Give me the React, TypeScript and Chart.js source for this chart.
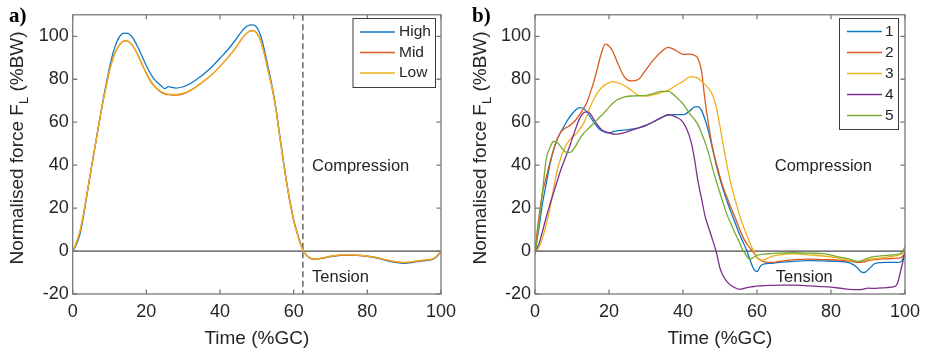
import React, { useEffect, useRef } from 'react';
import { Chart, registerables } from 'chart.js';

Chart.register(...registerables);

const FONT = '"Liberation Sans", Arial, Helvetica, sans-serif';
const TEXT = '#262626';

const xTicks = [0, 20, 40, 60, 80, 100];
const yTicks = [-20, 0, 20, 40, 60, 80, 100];

// ---------- Panel a ----------
const xsA = [0,1,2,3,4,5,6,7,8,9,10,11,12,13,14,15,16,17,18,19,20,21,22,23,24,25,26,27,28,30,32,34,36,38,40,42,44,46,47,48,49,50,51,52,53,54,55,56,57,58,59,60,61,62,63,64,65,66,68,70,73,76,79,82,85,88,90,92,94,96,97,98,99,100];
const highA = [0,3,8,17,27.5,38,48,58,68,77,85.5,92.5,97.5,100.5,101.5,101.4,100,97.3,93.8,90,86.3,83,80.3,78.5,77,75.6,76.6,76.2,75.9,76.5,78,80.3,83,86.2,89.8,93.5,97.8,102.5,104.3,105.2,105.3,104.2,100.5,94,86,78,68.5,56.5,44.5,33,23,14.5,8.3,2.8,-0.8,-2.8,-3.7,-3.8,-3.3,-2.6,-2,-1.9,-2.2,-3,-4.3,-5.4,-5.7,-5.4,-4.8,-4.4,-4.2,-3.7,-2.3,0];
const midA = [0,3.8,9.3,17.8,27.8,38,48,58,67.5,76,84,90,94,96.7,97.8,97.7,96.2,93.6,90.1,86.3,82.7,79.5,77,75.3,74,73.2,72.8,72.6,72.6,73.2,74.8,77,79.6,82.5,86,89.8,94,99,101,102.4,102.6,101.5,98,92,84.5,77,68,56,44,32.7,22.8,14.3,8,2.6,-0.9,-2.8,-3.6,-3.8,-3.2,-2.5,-1.9,-1.9,-2.2,-2.9,-4.1,-5.1,-5.4,-5.1,-4.6,-4.2,-4,-3.5,-2.1,0];
const lowA = [0,4,9.5,18,28,38,48,58,67.5,76,84,90,94,96.6,97.7,97.6,96.2,93.7,90.3,86.5,83,79.8,77.3,75.6,74.3,73.5,73.1,72.9,72.9,73.5,75,77.2,79.7,82.6,86,89.8,94,99,101,102.3,102.5,101.4,98,92,84.5,77,68,56,44,32.7,22.8,14.3,8,2.6,-0.9,-2.8,-3.6,-3.7,-3.1,-2.4,-1.8,-1.8,-2.1,-2.8,-4,-5,-5.3,-5,-4.5,-4.1,-3.9,-3.4,-2,0];
const namesA = ['High', 'Mid', 'Low'];

// ---------- Panel b ----------
const xsB = [0,1,2,3,4,5,6,7,8,9,10,11,12,13,14,15,16,17,18,19,20,21,22,24,26,28,30,32,34,36,38,40,42,43,44,45,46,47,48,49,50,51,52,53,54,55,56,57,58,59,60,61,62,64,66,70,74,78,82,85,87,88,89,90,92,95,97,98,99,100];
const s1 = [0,10,22,31,40,47,52,55.5,58.5,61.5,63.8,65.7,66.8,66.6,64.8,62.3,59.8,57.5,56,55.3,55,55.5,56,56.3,56.8,57.4,58.5,60.2,62,63.3,63.5,63.5,65.5,67,67.2,65.5,61,55,47.5,40,33.5,28,22.7,18,13.5,9,5,1.2,-3.5,-8,-9.6,-6.8,-6,-5.7,-5.3,-4.8,-4.5,-4.6,-4.8,-5.5,-7.5,-9.5,-10,-8.8,-5.7,-5.3,-5.3,-5.3,-5,-0.7];
const s2 = [0,15,27,34,41,47,52,55.5,57,58,59.3,61,63.4,66,69,74,79.5,86,92.5,96.3,95.5,93,89,81.5,79.2,80,84.5,89,92.6,94.8,93.5,91.6,91.7,91.2,89.8,84,69.5,58,48,41,34.5,29,24.5,20,16,11.5,7.3,4,1.6,-0.5,-3,-4.2,-5,-5.3,-4.8,-4,-3.8,-4,-4.2,-4.7,-5.3,-5.3,-5,-4.5,-4,-3.6,-3.4,-3.3,-3,-0.8];
const s3 = [0,1.5,6,12,19.6,29,37.5,43.5,48,51,53,54.3,56.5,59,63,67.5,71,74,76,77.5,78.3,78.9,78.5,77.2,75,72.5,72.2,72.8,73.7,74.8,77,79,81.2,81,80.5,79,77.5,75.5,72.5,67,58,48,39,31,24.5,18.5,13,8.5,4,0.3,-3,-4.5,-4,-2.5,-1.8,-1.3,-1.8,-2.3,-3.3,-4.3,-4.8,-4.7,-4.3,-4,-3.5,-2.8,-2.3,-2,-1.3,0];
const s4 = [0,3,9,15.5,21.5,27,32.5,38,42.5,47,52,57,61.5,64.2,64.8,63.8,61,58.5,56.5,55.6,55,54.5,54.4,55,56.2,57.3,58.5,60.2,62,63.5,62.5,60,52,44,33,24.5,16,10.5,5.2,-0.5,-8,-12,-14.5,-16,-17,-17.7,-17.6,-17.1,-16.8,-16.5,-16.3,-16.2,-16.1,-16,-15.9,-15.9,-16.2,-16.6,-17.2,-17.8,-18,-18,-17.6,-17.3,-17.4,-17,-16.6,-15,-8,-1];
const s5 = [-2,12,27,42.5,48,51,50.5,48.5,46.5,45.8,46.5,49,52,54.5,56.3,58,59.8,61.5,63.2,65,67,68.8,70.2,71.7,72.2,72.3,72.5,73.3,74.3,74.3,72,68.5,63.5,61.5,59,55,50.5,45,38.5,32.5,27,21.5,16.5,12.5,8.5,5,1,-1.8,-3.8,-3,-2,-1.6,-1.4,-1.2,-1,-0.8,-1,-1.2,-2.7,-3.8,-4.8,-4.8,-4,-3.3,-2.5,-2,-1.7,-1.5,-1,2];
const namesB = ['1', '2', '3', '4', '5'];

const colors = ['#0f78c2', '#d95a22', '#edb120', '#7e2f8e', '#77ac30'];

const panelPlugin = {
  id: 'panel',
  beforeDatasetsDraw(chart: any, _args: any, o: any) {
    const { ctx, chartArea: a } = chart;
    const xs = chart.scales.x, ys = chart.scales.y;
    ctx.save();
    const y0 = ys.getPixelForValue(0);
    ctx.strokeStyle = '#4a4a4a';
    ctx.lineWidth = 1.2;
    ctx.beginPath();
    ctx.moveTo(a.left, y0);
    ctx.lineTo(a.right, y0);
    ctx.stroke();
    if (o.vline !== undefined && o.vline !== null) {
      const xv = xs.getPixelForValue(o.vline);
      ctx.setLineDash([6, 3.5]);
      ctx.strokeStyle = '#666';
      ctx.lineWidth = 1.5;
      ctx.beginPath();
      ctx.moveTo(xv, a.top);
      ctx.lineTo(xv, a.bottom);
      ctx.stroke();
    }
    ctx.restore();
  },
  afterDatasetsDraw(chart: any, _args: any, o: any) {
    const { ctx, chartArea: a } = chart;
    const xs = chart.scales.x, ys = chart.scales.y;
    ctx.save();
    // frame
    ctx.strokeStyle = '#7a7a7a';
    ctx.lineWidth = 1.3;
    ctx.strokeRect(a.left, a.top, a.right - a.left, a.bottom - a.top);
    // inner ticks
    const tl = 4.5;
    ctx.beginPath();
    xTicks.forEach((v) => {
      const p = xs.getPixelForValue(v);
      ctx.moveTo(p, a.bottom); ctx.lineTo(p, a.bottom - tl);
      ctx.moveTo(p, a.top); ctx.lineTo(p, a.top + tl);
    });
    yTicks.forEach((v) => {
      const p = ys.getPixelForValue(v);
      ctx.moveTo(a.left, p); ctx.lineTo(a.left + tl, p);
      ctx.moveTo(a.right, p); ctx.lineTo(a.right - tl, p);
    });
    ctx.stroke();

    // annotations
    ctx.fillStyle = TEXT;
    ctx.font = `16.5px ${FONT}`;
    ctx.textAlign = 'left';
    ctx.textBaseline = 'middle';
    (o.notes || []).forEach((n: any) => {
      ctx.fillText(n.text, xs.getPixelForValue(n.x), ys.getPixelForValue(n.y));
    });

    // legend
    const L = o.legend;
    if (L) {
      const ds = chart.data.datasets;
      const h = L.pad * 2 + L.step * (ds.length - 1);
      ctx.fillStyle = '#fff';
      ctx.fillRect(L.left, L.top, L.width, h);
      ctx.strokeStyle = '#3c3c3c';
      ctx.lineWidth = 1;
      ctx.strokeRect(L.left + 0.5, L.top + 0.5, L.width, h);
      ctx.font = `15.5px ${FONT}`;
      ctx.textBaseline = 'middle';
      ds.forEach((d: any, i: number) => {
        const yy = L.top + L.pad + i * L.step;
        ctx.strokeStyle = d.borderColor;
        ctx.lineWidth = 1.3;
        ctx.beginPath();
        ctx.moveTo(L.left + L.line0, yy);
        ctx.lineTo(L.left + L.line1, yy);
        ctx.stroke();
        ctx.fillStyle = TEXT;
        ctx.fillText(d.label, L.left + L.text, yy);
      });
    }

    // panel tag
    ctx.fillStyle = '#000';
    ctx.font = `bold 21px "Liberation Serif", "Times New Roman", serif`;
    ctx.textAlign = 'left';
    ctx.textBaseline = 'alphabetic';
    ctx.fillText(o.tag, 9, 22);

    // x title
    ctx.fillStyle = TEXT;
    ctx.font = `19px ${FONT}`;
    ctx.textAlign = 'center';
    ctx.fillText('Time (%GC)', (a.left + a.right) / 2, 344);

    // y title with subscript
    const main = 'Normalised force F';
    const sub = 'L';
    const tail = ' (%BW)';
    ctx.font = `19px ${FONT}`;
    const w1 = ctx.measureText(main).width;
    const w3 = ctx.measureText(tail).width;
    ctx.font = `13px ${FONT}`;
    const w2 = ctx.measureText(sub).width;
    const total = w1 + w2 + w3;
    const cy = 148;
    ctx.translate(23, cy + total / 2);
    ctx.rotate(-Math.PI / 2);
    ctx.textAlign = 'left';
    ctx.font = `19px ${FONT}`;
    ctx.fillText(main, 0, 0);
    ctx.font = `13px ${FONT}`;
    ctx.fillText(sub, w1, 5);
    ctx.font = `19px ${FONT}`;
    ctx.fillText(tail, w1 + w2, 0);
    ctx.restore();
  },
};

function makeConfig(xsArr: number[], series: number[][], names: string[], cols: string[], opts: any, padRight: number, leftW: number) {
  return {
    type: 'line' as const,
    data: {
      datasets: series.map((s, i) => ({
        label: names[i],
        data: xsArr.map((x, j) => ({ x, y: s[j] })),
        borderColor: cols[i],
        backgroundColor: cols[i],
        borderWidth: 1.3,
        pointRadius: 0,
        fill: false,
        cubicInterpolationMode: 'monotone' as const,
        order: series.length - i,
      })),
    },
    options: {
      animation: false as const,
      responsive: false,
      devicePixelRatio: 1,
      events: [],
      layout: { padding: { left: 0, top: 7, right: padRight, bottom: 0 } },
      plugins: {
        legend: { display: false },
        tooltip: { enabled: false },
        panel: opts,
      },
      scales: {
        x: {
          type: 'linear' as const,
          min: 0,
          max: 100,
          grid: { display: false, drawTicks: false },
          border: { display: false },
          afterBuildTicks: (sc: any) => { sc.ticks = xTicks.map((v) => ({ value: v })); },
          afterFit: (sc: any) => { sc.height = 57; },
          ticks: { color: TEXT, font: { family: FONT, size: 18 }, padding: 7, maxRotation: 0, autoSkip: false },
        },
        y: {
          type: 'linear' as const,
          min: -20,
          max: 110,
          grid: { display: false, drawTicks: false },
          border: { display: false },
          afterBuildTicks: (sc: any) => { sc.ticks = yTicks.map((v) => ({ value: v })); },
          afterFit: (sc: any) => { sc.width = leftW; },
          ticks: { color: TEXT, font: { family: FONT, size: 18 }, padding: 4, autoSkip: false },
        },
      },
    },
    plugins: [panelPlugin],
  };
}

function Panel({ left, width, config }: { left: number; width: number; config: any }) {
  const ref = useRef<HTMLCanvasElement | null>(null);
  useEffect(() => {
    if (!ref.current) return;
    const chart = new Chart(ref.current, config);
    return () => chart.destroy();
  }, [config]);
  return (
    <canvas
      ref={ref}
      width={width}
      height={351}
      style={{ position: 'absolute', left, top: 0, width, height: 351 }}
    />
  );
}

const configA = makeConfig(xsA, [highA, midA, lowA], namesA, colors.slice(0, 3), {
  tag: 'a)',
  vline: 62.5,
  notes: [
    { text: 'Compression', x: 65, y: 39.5 },
    { text: 'Tension', x: 65, y: -12.3 },
  ],
  legend: { left: 352.5, top: 18, width: 82.5, pad: 14, step: 20.5, line0: 7.5, line1: 42.5, text: 46.5 },
}, 16.3, 72.7);

const configB = makeConfig(xsB, [s1, s2, s3, s4, s5], namesB, colors, {
  tag: 'b)',
  notes: [
    { text: 'Compression', x: 64.8, y: 39.5 },
    { text: 'Tension', x: 65.1, y: -12.3 },
  ],
  legend: { left: 376, top: 18, width: 59, pad: 13.5, step: 21, line0: 8, line1: 43, text: 46 },
}, 17, 72);

export default function App() {
  return (
    <div style={{ position: 'fixed', left: 0, top: 0, width: 927, height: 351, background: '#fff' }}>
      <Panel left={0} width={463} config={configA} />
      <Panel left={463} width={464} config={configB} />
    </div>
  );
}
